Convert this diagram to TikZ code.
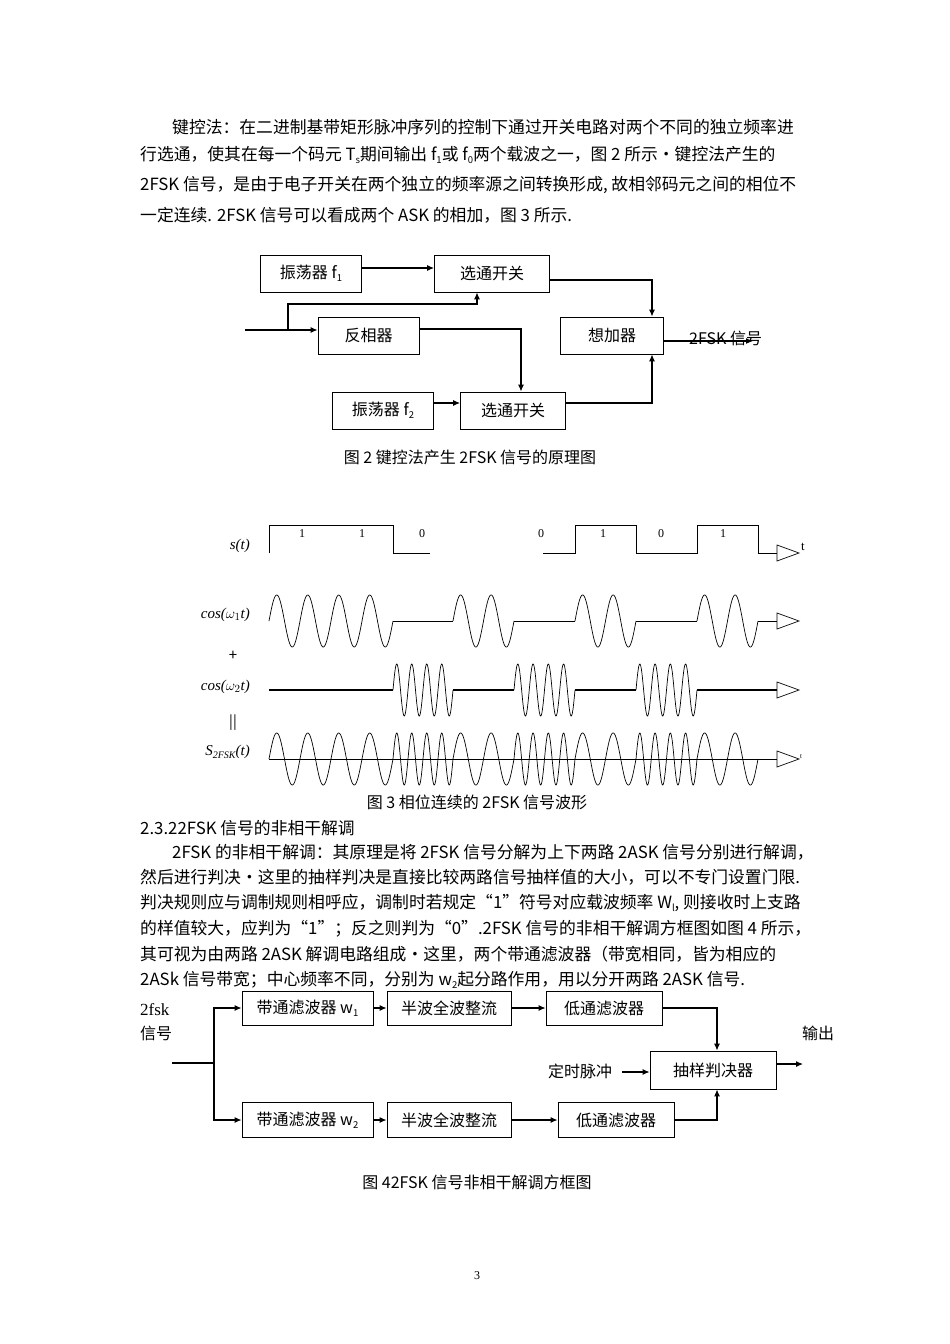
\documentclass[tikz,border=0pt]{standalone}
\usepackage{fontspec}
\setmainfont{Noto Sans CJK SC}
\newfontfamily\latin{Liberation Serif}
\newcommand\dnsub[1]{\raisebox{-0.35ex}{\fontsize{9.5}{9.5}\selectfont #1}}
\tikzset{
 bx/.style={draw,line width=0.9pt,inner sep=0pt,font=\fontsize{16}{18}\selectfont},
 con/.style={line width=1.1pt},
 arr/.style={line width=1.1pt,-{Latex[length=7pt,width=6pt]}},
 txt/.style={anchor=west,inner sep=0pt,font=\fontsize{16.8}{19}\selectfont},
 cp/.style={inner sep=0pt,font=\fontsize{16}{18}\selectfont},
 wv/.style={line width=0.7pt},
 lbl/.style={inner sep=0pt,font=\latin\itshape\fontsize{15}{17}\selectfont}
}
\usetikzlibrary{arrows.meta}
\newcommand\wseg[5]{\draw[wv] plot[domain=#1:#2,samples=160] (\x,{#3-26*sin((\x-#1)*(360*#4/(#2-#1)))});}
\newcommand\openarrow[2]{\draw[wv] (#1,#2) -- (#1+20,#2) ; \draw[wv,fill=white] (#1,#2-8) -- (#1+22,#2) -- (#1,#2+8) -- cycle;}
\begin{document}
\begin{tikzpicture}[x=1pt,y=-1pt]
\useasboundingbox[fill=white] (0,0) rectangle (950,1344);
% paragraph 1
\node[txt] (p1) at (172,127) {键控法：在二进制基带矩形脉冲序列的控制下通过开关电路对两个不同的独立频率进};
\node[txt] (p2) at (140,155) {行选通，使其在每一个码元 T\dnsub{s}期间输出 f\dnsub{1}或 f\dnsub{0}两个载波之一，图 2 所示•键控法产生的};
\node[txt] (p3) at (140,185) {2FSK 信号，是由于电子开关在两个独立的频率源之间转换形成, 故相邻码元之间的相位不};
\node[txt] (p4) at (140,215) {一定连续. 2FSK 信号可以看成两个 ASK 的相加，图 3 所示.};
% figure 2
\node[bx,minimum width=101pt,minimum height=37pt] (f1) at (311,273.5) {振荡器 f\dnsub{1}};
\node[bx,minimum width=115pt,minimum height=37pt] (sw1) at (492,273.5) {选通开关};
\node[bx,minimum width=101pt,minimum height=37pt] (inv) at (368.5,335.5) {反相器};
\node[bx,minimum width=103pt,minimum height=37pt] (add) at (612,335.5) {想加器};
\node[bx,minimum width=101pt,minimum height=37pt] (f2) at (383,410.5) {振荡器 f\dnsub{2}};
\node[bx,minimum width=105pt,minimum height=37pt] (sw2) at (513,410.5) {选通开关};
\coordinate (in) at (245,330);
\coordinate (br) at (288,330);
\draw[arr] (f1.east |- 0,268) -- (sw1.west |- 0,268);
\draw[arr] (in) -- (inv.west |- in);
\draw[arr] (br) -- (288,304) -- (477,304) -- (sw1.south -| 477,0);
\draw[arr] (inv.east |- 0,329) -- (521,329) -- (sw2.north -| 521,0);
\draw[arr] (sw1.east |- 0,280) -- (652,280) -- (add.north -| 652,0);
\draw[arr] (f2.east |- 0,403) -- (sw2.west |- 0,403);
\draw[arr] (sw2.east |- 0,403) -- (652,403) -- (add.south -| 652,0);
\coordinate (out2) at (753,341);
\draw[arr] (add.east |- out2) -- (out2);
\node[cp,anchor=west] (l2fsk) at (689,338) {2FSK 信号};
\node[cp] (cap2) at (470,457) {图 2 键控法产生 2FSK 信号的原理图};
% figure 3
\node[lbl,anchor=east] (ls) at (250,546) {s(t)};
\draw[wv] (269,553) -- (269,525) -- (393,525) -- (393,553) -- (430,553);
\draw[wv] (543,553) -- (575,553) -- (575,525) -- (636,525) -- (636,553) -- (697,553) -- (697,525) -- (758,525) -- (758,553) -- (777,553);
\openarrow{777}{553}
\node[inner sep=0pt,font=\latin\fontsize{13}{13}\selectfont] (t1) at (803,547) {t};
\foreach \xx/\b in {302/1,362/1,422/0,541/0,603/1,661/0,723/1}{\node[inner sep=0pt,font=\latin\fontsize{12}{12}\selectfont] at (\xx,534) {\b};}
\node[lbl,anchor=east] (lc1) at (250,615) {cos($\omega_1$t)};
\wseg{269}{393}{621}{4}{}
\draw[wv] (393,621) -- (453,621); \wseg{453}{514}{621}{2}{}
\draw[wv] (514,621) -- (575,621); \wseg{575}{636}{621}{2}{}
\draw[wv] (636,621) -- (697,621); \wseg{697}{758}{621}{2}{}
\draw[wv] (758,621) -- (777,621);
\openarrow{777}{621}
\node[inner sep=0pt,font=\fontsize{15}{15}\selectfont] (plus) at (233,656) {+};
\node[lbl,anchor=east] (lc2) at (250,687) {cos($\omega_2$t)};
\draw[line width=1.3pt] (269,690) -- (393,690); \wseg{393}{453}{690}{4}{}
\draw[line width=1.3pt] (453,690) -- (514,690); \wseg{514}{575}{690}{4}{}
\draw[line width=1.3pt] (575,690) -- (636,690); \wseg{636}{697}{690}{4}{}
\draw[line width=1.3pt] (697,690) -- (777,690);
\openarrow{777}{690}
\node[inner sep=0pt,font=\fontsize{14}{14}\selectfont] (eq) at (233,723) {||};
\node[lbl,anchor=east] (ls2) at (250,752) {S\raisebox{-0.4ex}{\fontsize{10}{10}\selectfont 2FSK}(t)};
\draw[wv] (269,759) -- (777,759);
\wseg{269}{393}{759}{4}{}\wseg{393}{453}{759}{4}{}\wseg{453}{514}{759}{2}{}\wseg{514}{575}{759}{4}{}
\wseg{575}{636}{759}{2}{}\wseg{636}{697}{759}{4}{}\wseg{697}{758}{759}{2}{}
\openarrow{777}{759}
\node[inner sep=0pt,font=\latin\fontsize{7}{7}\selectfont] (t2) at (801,757) {t};
\node[cp] (cap3) at (477,802) {图 3 相位连续的 2FSK 信号波形};
% section
\node[txt] (h) at (140,828) {2.3.22FSK 信号的非相干解调};
\node[txt] (q1) at (172,852) {2FSK 的非相干解调：其原理是将 2FSK 信号分解为上下两路 2ASK 信号分别进行解调，};
\node[txt] (q2) at (140,877) {然后进行判决•这里的抽样判决是直接比较两路信号抽样值的大小，可以不专门设置门限.};
\node[txt] (q3) at (140,903) {判决规则应与调制规则相呼应，调制时若规定“1”符号对应载波频率 W\dnsub{l}, 则接收时上支路};
\node[txt] (q4) at (140,929) {的样值较大，应判为“1”；反之则判为“0”.2FSK 信号的非相干解调方框图如图 4 所示，};
\node[txt] (q5) at (140,954) {其可视为由两路 2ASK 解调电路组成•这里，两个带通滤波器（带宽相同，皆为相应的};
\node[txt] (q6) at (140,980) {2ASk 信号带宽；中心频率不同，分别为 w\dnsub{2}起分路作用，用以分开两路 2ASK 信号.};
% figure 4
\node[bx,minimum width=131pt,minimum height=34pt] (bp1) at (307.5,1008) {带通滤波器 w\dnsub{1}};
\node[bx,minimum width=124pt,minimum height=34pt] (hw1) at (449,1008) {半波全波整流};
\node[bx,minimum width=116pt,minimum height=34pt] (lp1) at (604,1008) {低通滤波器};
\node[bx,minimum width=126pt,minimum height=38pt] (dec) at (713,1070) {抽样判决器};
\node[bx,minimum width=131pt,minimum height=35pt] (bp2) at (307.5,1120) {带通滤波器 w\dnsub{2}};
\node[bx,minimum width=124pt,minimum height=35pt] (hw2) at (449,1120) {半波全波整流};
\node[bx,minimum width=116pt,minimum height=35pt] (lp2) at (616,1120) {低通滤波器};
\node[inner sep=0pt,anchor=west,font=\latin\fontsize{17}{19}\selectfont] (fsk) at (140,1010) {2fsk};
\node[cp,anchor=west] (xh) at (140,1033) {信号};
\coordinate (in4) at (172,1063);
\coordinate (sp) at (214,1063);
\draw[con] (in4) -- (sp);
\draw[arr] (sp) |- (bp1.west);
\draw[arr] (sp) |- (bp2.west);
\draw[arr] (bp1) -- (hw1);
\draw[arr] (hw1) -- (lp1);
\draw[arr] (bp2) -- (hw2);
\draw[arr] (hw2) -- (lp2);
\draw[arr] (lp1.east) -| (dec.north -| 717,0);
\draw[arr] (lp2.east) -| (dec.south -| 717,0);
\node[cp,anchor=west] (tim) at (548,1071) {定时脉冲};
\coordinate (timc) at (622,1072);
\draw[arr] (timc) -- (dec.west |- timc);
\coordinate (outc) at (803,1064);
\draw[arr] (dec.east |- outc) -- (outc);
\node[cp,anchor=west] (outl) at (802,1033) {输出};
\node[cp] (cap4) at (477,1182) {图 42FSK 信号非相干解调方框图};
\node[inner sep=0pt,font=\latin\fontsize{12}{12}\selectfont] (pg) at (477,1276) {3};
\end{tikzpicture}
\end{document}
